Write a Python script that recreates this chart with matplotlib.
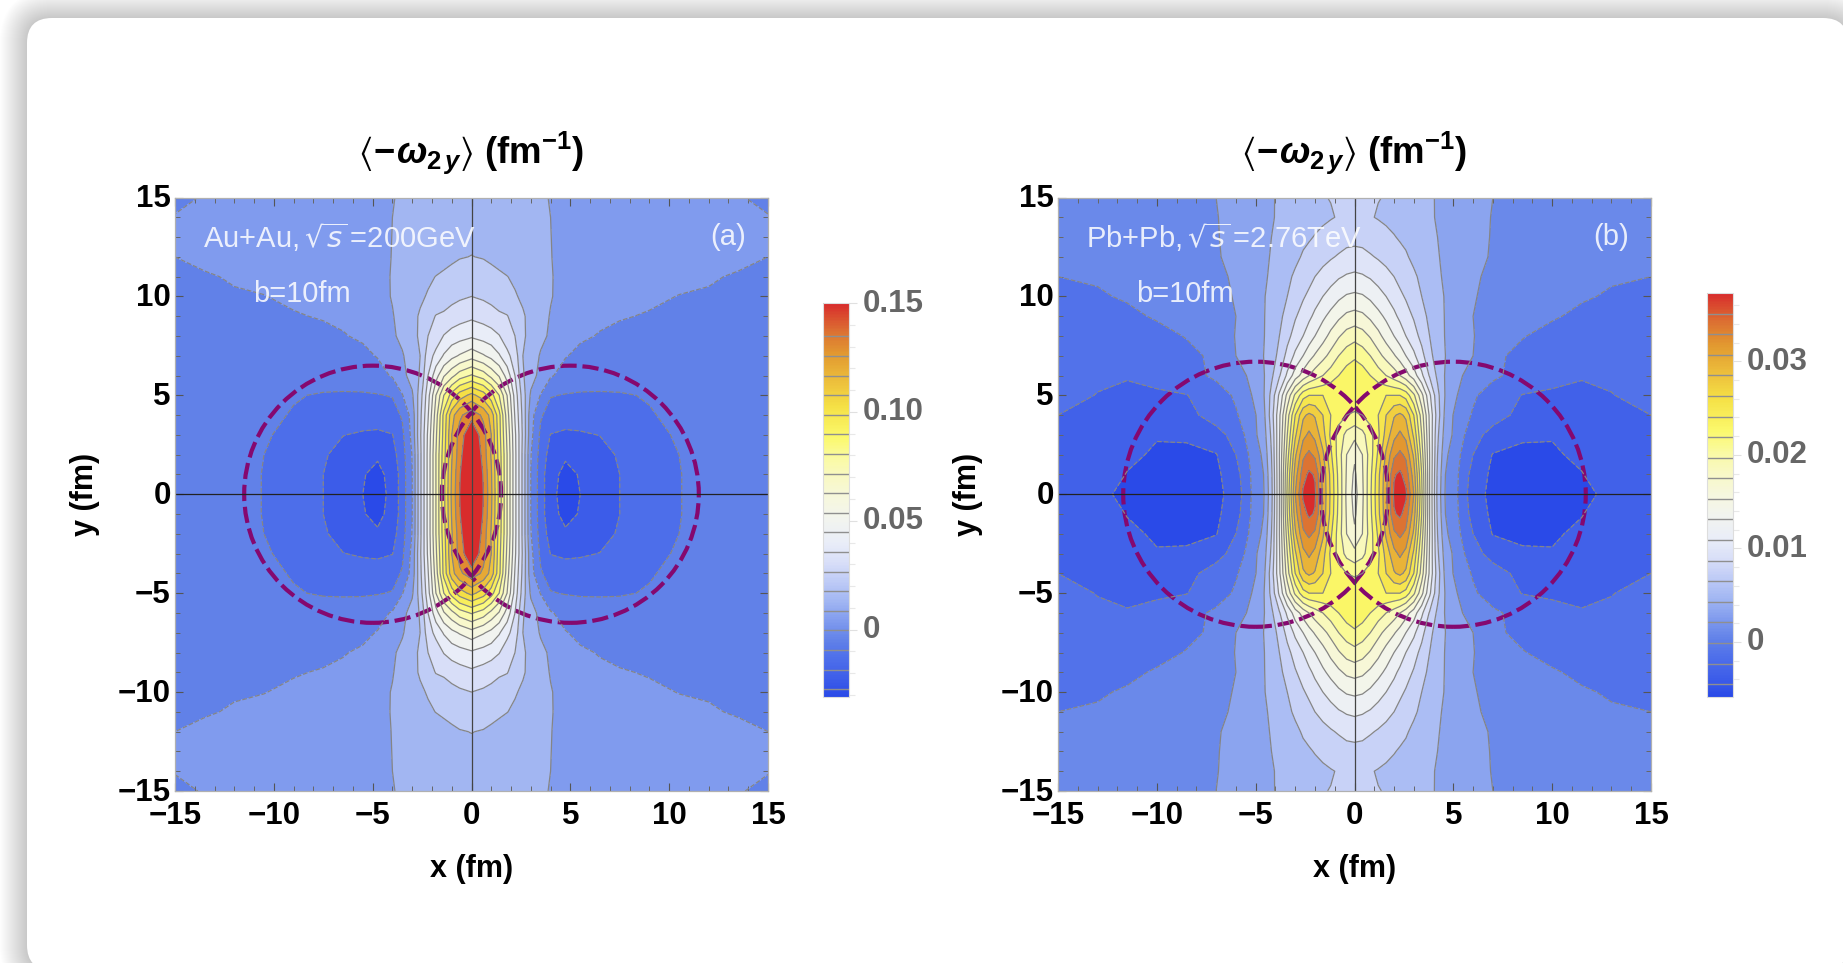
import numpy as np
import matplotlib
matplotlib.use('Agg')
import matplotlib.pyplot as plt
from matplotlib.cm import ScalarMappable
from matplotlib.colors import LinearSegmentedColormap, Normalize
from matplotlib.patches import Circle, FancyBboxPatch
from matplotlib.ticker import FixedFormatter, MultipleLocator
from matplotlib.transforms import ScaledTranslation

plt.rcParams['font.family'] = ['Liberation Sans', 'DejaVu Sans']
plt.rcParams['axes.labelweight'] = 'bold'
plt.rcParams['axes.titleweight'] = 'bold'
plt.rcParams['mathtext.fontset'] = 'custom'
plt.rcParams['mathtext.rm'] = 'Liberation Sans:bold'
plt.rcParams['mathtext.it'] = 'Liberation Sans:italic:bold'
plt.rcParams['mathtext.bf'] = 'Liberation Sans:bold'
plt.rcParams['mathtext.fallback'] = 'stixsans'

W, H = 1843, 963

# contour levels
first_level_a, level_step_a = -0.0273, 0.009
first_level_b, level_step_b = -0.0045, 0.0022
n_levels = 19
range_a = (-0.0309, 0.15)
range_b = (-0.00588, 0.0373)
bar_ticks_a = [0, 0.05, 0.10, 0.15]
bar_labels_a = ['0', '0.05', '0.10', '0.15']
bar_ticks_b = [0, 0.01, 0.02, 0.03]
bar_labels_b = ['0', '0.01', '0.02', '0.03']

# overlap circles: centres and radius (fm)
centres = [-5, 5]
radius_a = 6.5
radius_b = 6.7

band_colors = [(0, '#2A4AE8'), (.05, '#3F5FE9'), (.10, '#4F70EA'), (.14, '#6080E8'),
               (.19, '#7F9AEE'), (.24, '#A0B5F2'), (.29, '#BDCAF6'), (.34, '#D8DEF8'),
               (.39, '#E9EDF8'), (.45, '#F2F4EF'), (.50, '#F6F7DF'), (.55, '#F8F8C8'),
               (.60, '#FAFAA8'), (.66, '#FBF96C'), (.74, '#F5E045'), (.80, '#EDC03C'),
               (.87, '#E29A30'), (.93, '#DC7032'), (1, '#D82C2C')]

# field, one quadrant (x>=0, y>=0), in contour level numbers
y_nodes = [0, 1, 2, 3, 4, 5, 6, 7, 8, 9, 10, 11, 12, 13, 14, 15]

x_nodes_a = [0, .6, 1, 1.4, 1.8, 2.2, 2.6, 3, 3.5, 4, 4.75, 5.5, 6.5, 7.5, 9, 10.5, 12, 13.5, 15]
rows_a = [
    [20.2, 18, 16.2, 13.7, 11, 8.3, 5.7, 3, 1.5, .25, -.35, 0, .5, 1, 1.5, 1.97, 2.3, 2.5, 2.7],
    [20, 17.9, 16.1, 13.7, 11, 8.3, 5.7, 3, 1.5, .25, -.2, .05, .5, 1, 1.5, 1.97, 2.3, 2.5, 2.7],
    [19.6, 17.6, 15.9, 13.6, 11, 8.3, 5.7, 3.05, 1.6, .6, .1, .35, .7, 1.1, 1.55, 2, 2.3, 2.5, 2.7],
    [19, 17.4, 16, 13.4, 10.8, 8.2, 5.8, 3.3, 1.8, .97, .85, .9, 1.02, 1.35, 1.75, 2.1, 2.35, 2.5, 2.7],
    [17.6, 16.8, 15.6, 13.3, 10.5, 7.9, 5.7, 3.4, 2.1, 1.65, 1.4, 1.4, 1.5, 1.65, 1.92, 2.25, 2.4, 2.55, 2.75],
    [15.3, 14.5, 13.4, 12, 10, 7.6, 5.5, 3.85, 2.95, 2.05, 1.95, 1.9, 1.88, 1.9, 2.08, 2.35, 2.5, 2.6, 2.8],
    [12.1, 11.5, 10.7, 9.9, 8.6, 7, 5.1, 4.4, 3.7, 3.1, 2.65, 2.5, 2.5, 2.55, 2.6, 2.7, 2.75, 2.8, 2.85],
    [9.6, 9.1, 8.7, 8.1, 7.3, 6.5, 5, 4.55, 3.9, 3.55, 3.05, 2.8, 2.7, 2.75, 2.8, 2.85, 2.9, 2.93, 2.95],
    [7.85, 7.6, 7.4, 7.05, 6.4, 6, 5.15, 4.7, 4.25, 3.85, 3.4, 3.12, 2.95, 2.9, 2.9, 2.92, 2.95, 2.96, 2.97],
    [6.8, 6.6, 6.4, 6.15, 6.05, 5.6, 5.1, 4.75, 4.3, 3.95, 3.6, 3.35, 3.15, 3.03, 2.97, 2.95, 2.96, 2.97, 2.98],
    [6, 5.85, 5.7, 5.55, 5.3, 5.08, 4.85, 4.6, 4.3, 4.05, 3.7, 3.5, 3.32, 3.2, 3.07, 2.99, 2.98, 2.98, 2.99],
    [5.5, 5.4, 5.25, 5.15, 5.02, 4.85, 4.6, 4.4, 4.2, 4.05, 3.75, 3.55, 3.4, 3.3, 3.2, 3.1, 3.02, 2.98, 2.99],
    [5.02, 4.95, 4.85, 4.7, 4.55, 4.4, 4.3, 4.2, 4.1, 4.02, 3.8, 3.6, 3.5, 3.4, 3.3, 3.2, 3.1, 3.05, 3],
    [4.8, 4.75, 4.7, 4.6, 4.5, 4.4, 4.3, 4.2, 4.1, 4.01, 3.8, 3.65, 3.55, 3.45, 3.35, 3.3, 3.2, 3.15, 3.1],
    [4.6, 4.55, 4.5, 4.45, 4.4, 4.3, 4.25, 4.15, 4.08, 4, 3.8, 3.65, 3.55, 3.45, 3.32, 3.25, 3.15, 3.08, 3.02],
    [4.5, 4.45, 4.42, 4.38, 4.32, 4.26, 4.2, 4.14, 4.06, 3.98, 3.8, 3.65, 3.55, 3.45, 3.3, 3.2, 3.1, 3.03, 2.9],
]

x_nodes_b = [0, .4, .8, 1.2, 1.6, 2, 2.3, 2.6, 3, 3.4, 3.8, 4.2, 4.6, 5.2, 6, 7, 8.5, 10, 11.5, 13, 15]
rows_b = [
    [8.6, 9.8, 11.8, 13.8, 15.8, 18.2, 18.6, 18.2, 16, 12.2, 8, 4.7, 2.9, 2.05, .4, -.25, -.45, -.4, -.2, .2, .6],
    [8.8, 9.9, 11.7, 13.7, 15.7, 17.9, 18.2, 17.6, 15.5, 12, 8, 4.8, 3, 2.1, .6, -.2, -.4, -.3, -.03, .4, .7],
    [9.2, 10, 11.5, 13.2, 15.2, 16.8, 17.2, 16.8, 14.8, 11.5, 8, 5, 3.2, 2.25, 1, -.05, -.15, -.1, .15, .55, .8],
    [10.3, 10.7, 11.6, 12.8, 14.4, 15.7, 16.2, 15.7, 13.8, 11, 7.9, 5.2, 3.5, 2.6, 1.3, .7, .1, .05, .5, .8, .97],
    [11.8, 12, 12.4, 13, 14, 14.9, 15.2, 14.8, 13, 10.5, 7.8, 5.5, 3.7, 2.6, 1.9, 1.35, .75, .6, .75, .95, 1],
    [12.9, 12.9, 12.8, 12.9, 13, 13, 13, 12.6, 11.2, 9.3, 7.2, 5.3, 3.9, 3, 2.15, 1.5, .97, .9, .85, .98, 1.2],
    [12.8, 12.5, 12, 11.5, 11, 10.5, 10, 9.4, 8.5, 7.2, 5.9, 4.8, 3.9, 3.2, 2.6, 2.2, 1.6, 1.2, 1.05, 1.1, 1.4],
    [11.8, 11.5, 11, 10.3, 9.7, 9.1, 8.6, 8, 7.2, 6.3, 5.3, 4.5, 4, 3.4, 3, 2.2, 1.75, 1.45, 1.25, 1.25, 1.45],
    [10.65, 10.4, 9.9, 9.3, 8.6, 8, 7.5, 7, 6.4, 5.7, 5, 4.4, 3.95, 3.5, 3.03, 2.6, 2.05, 1.7, 1.4, 1.4, 1.55],
    [9.35, 9.2, 8.8, 8.3, 7.8, 7.2, 6.8, 6.4, 5.9, 5.3, 4.8, 4.3, 3.95, 3.5, 3, 2.7, 2.3, 2.1, 1.8, 1.6, 1.6],
    [8.2, 8.1, 7.8, 7.4, 7, 6.6, 6.2, 5.9, 5.5, 5, 4.6, 4.2, 3.95, 3.5, 3.05, 2.8, 2.5, 2.3, 2.1, 1.9, 1.85],
    [7.2, 7.1, 6.9, 6.6, 6.3, 6, 5.7, 5.5, 5.15, 4.8, 4.4, 4.1, 3.9, 3.5, 3.1, 2.85, 2.6, 2.45, 2.25, 2.1, 2],
    [6.35, 6.3, 6.1, 5.9, 5.7, 5.5, 5.3, 5.1, 4.8, 4.5, 4.2, 4.05, 3.85, 3.5, 3.15, 2.95, 2.7, 2.55, 2.4, 2.3, 2.2],
    [5.7, 5.65, 5.5, 5.35, 5.2, 5.05, 4.9, 4.8, 4.6, 4.35, 4.15, 4, 3.8, 3.5, 3.15, 2.97, 2.75, 2.6, 2.5, 2.4, 2.3],
    [5.2, 5.15, 5.05, 4.95, 4.85, 4.7, 4.55, 4.4, 4.25, 4.15, 4.05, 3.97, 3.75, 3.45, 3.15, 2.98, 2.75, 2.6, 2.5, 2.4, 2.3],
    [5.05, 5.06, 5.05, 5.02, 4.97, 4.85, 4.7, 4.55, 4.3, 4.15, 4.03, 3.98, 3.7, 3.4, 3.15, 3, 2.75, 2.6, 2.5, 2.4, 2.3],
]


def px_rect(left, right, top, bottom):
    return [left / W, 1 - bottom / H, (right - left) / W, (bottom - top) / H]


def nudge_up(labels, pixels):
    shift = ScaledTranslation(0, pixels / 100, fig.dpi_scale_trans)
    for lab in labels:
        lab.set_transform(lab.get_transform() + shift)


def draw_panel(fig, box, bar_box, xs, rows, first, step, z_range, radius, bar_ticks, bar_labels, minor, notes, tag):
    # quadrant -> whole plane
    xs = np.array(xs, dtype=float)
    ys = np.array(y_nodes, dtype=float)
    q = np.array(rows, dtype=float)
    x_full = np.concatenate([-xs[:0:-1], xs])
    y_full = np.concatenate([-ys[:0:-1], ys])
    right = np.hstack([q[:, :0:-1], q])
    z = np.vstack([right[:0:-1], right]) * step + first
    levels = first + step * np.arange(n_levels)
    norm = Normalize(*z_range)

    ax = fig.add_axes(px_rect(*box))
    ax.contourf(x_full, y_full, z, levels=levels, cmap=cmap, norm=norm, extend='both')
    ax.contour(x_full, y_full, z, levels=levels, colors='#858585', linewidths=0.9)
    ax.axhline(0, color='#222222', lw=0.9)
    ax.axvline(0, color='#444444', lw=0.9)
    for c in centres:
        ax.add_patch(Circle((c, 0), radius, fill=False, ec='#85086F', lw=3, ls=(0, (3.9, 1.4))))

    ax.set_xlim(-15, 15)
    ax.set_ylim(-15, 15)
    ax.set_xticks([-15, -10, -5, 0, 5, 10, 15])
    ax.set_yticks([-15, -10, -5, 0, 5, 10, 15])
    ax.xaxis.set_minor_locator(MultipleLocator(1))
    ax.yaxis.set_minor_locator(MultipleLocator(1))
    ax.tick_params(which='major', direction='in', top=True, right=True, length=6, width=0.8,
                   color='#555555', labelsize=22.5)
    ax.tick_params(axis='x', which='major', pad=7.5)
    ax.tick_params(axis='y', which='major', pad=3)
    ax.tick_params(which='minor', direction='in', top=True, right=True, length=3.5, width=0.7, color='#666666')
    plt.setp(ax.get_xticklabels() + ax.get_yticklabels(), fontweight='bold')
    for s in ax.spines.values():
        s.set_color('#b0b0b0')
        s.set_linewidth(0.9)
    nudge_up(ax.get_yticklabels(), 2)
    ax.set_xlabel('x (fm)', fontsize=22, labelpad=16.5)
    ax.set_ylabel('y (fm)', fontsize=22, labelpad=12.5)
    ax.set_title(r'$\langle\!-\!\omega_{2\,y}\rangle$ (fm$^{-1}$)', fontsize=26.3, pad=24.5)

    ax.text(-13.6, 13, notes, color='white', alpha=0.85, fontsize=21, va='center',
            math_fontfamily='dejavusans')
    ax.text(-11.05, 10.1, 'b=10fm', color='white', alpha=0.85, fontsize=21, va='center')
    ax.text(13.9, 13, tag, color='white', alpha=0.85, fontsize=21, va='center', ha='right')

    cax = fig.add_axes(px_rect(*bar_box))
    cb = fig.colorbar(ScalarMappable(norm=norm, cmap=cmap), cax=cax, ticks=bar_ticks)
    cb.ax.yaxis.set_major_formatter(FixedFormatter(bar_labels))
    cb.ax.yaxis.set_minor_locator(MultipleLocator(minor))
    cb.ax.hlines(levels, 0, 1, color='#8f8f8f', lw=1.0)
    cb.outline.set_edgecolor('#dddddd')
    cb.ax.tick_params(which='major', length=6, width=0.8, color='#e0e0e0', labelsize=22.5,
                      labelcolor='#666666', pad=4)
    cb.ax.tick_params(which='minor', length=4, width=0.8, color='#e8e8e8')
    plt.setp(cb.ax.get_yticklabels(), fontweight='bold')
    nudge_up(cb.ax.get_yticklabels(), 3)
    return ax


cmap = LinearSegmentedColormap.from_list('bands', band_colors)

fig = plt.figure(figsize=(W / 100, H / 100), dpi=100, facecolor='white')

# grey card shadow behind everything
back = fig.add_axes([0, 0, 1, 1], zorder=-5)
back.set_xlim(0, W)
back.set_ylim(H, 0)
back.axis('off')
for d in range(27, 0, -1):
    back.add_patch(FancyBboxPatch((27 - d, 18 - d), 1821 + 2 * d, 952 + 2 * d,
                                  boxstyle='round,pad=0,rounding_size=%d' % (25 + d),
                                  fc='black', ec='none', alpha=0.008))
back.add_patch(FancyBboxPatch((27, 18), 1821, 952, boxstyle='round,pad=0,rounding_size=25', fc='white', ec='none'))

note_a = r'Au+Au,$\,\sqrt{s}\,$=200GeV'
note_b = r'Pb+Pb,$\,\sqrt{s}\,$=2.76TeV'

draw_panel(fig, (175, 768, 197.5, 791), (823, 849, 303, 697), x_nodes_a, rows_a, first_level_a, level_step_a,
           range_a, radius_a, bar_ticks_a, bar_labels_a, 0.01, note_a, '(a)')
draw_panel(fig, (1058, 1651, 197.5, 791), (1707, 1733, 293, 697), x_nodes_b, rows_b, first_level_b, level_step_b,
           range_b, radius_b, bar_ticks_b, bar_labels_b, 0.002, note_b, '(b)')

fig.savefig('out.png', dpi=100, facecolor='white')
